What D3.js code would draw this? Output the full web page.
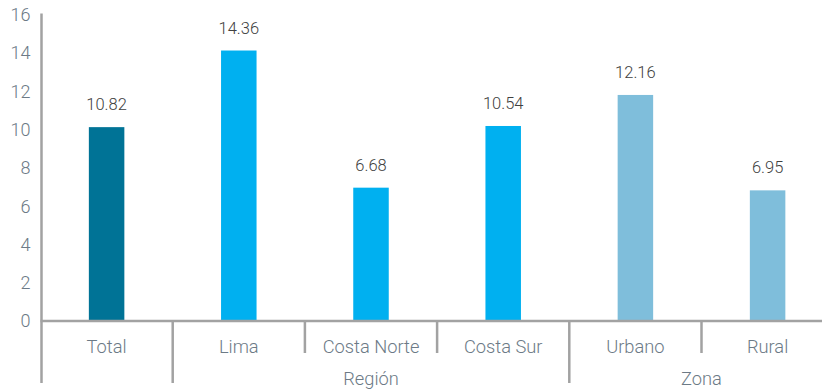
<!DOCTYPE html>
<html>
<head>
<meta charset="utf-8">
<script src="https://cdn.jsdelivr.net/npm/d3@7"></script>
<style>
body { margin: 0; background: #fff; }
svg { display: block; font-family: Roboto, "Liberation Sans", Arial, sans-serif; font-weight: 300; }
.tick-label { fill: #6c7a86; font-size: 18px; }
.cat-label { fill: #6c7a86; font-size: 18.3px; }
.val-label { fill: #404040; font-size: 16.5px; }
</style>
</head>
<body>
<svg id="chart"></svg>
<script>
// data
var categories = ["Total", "Lima", "Costa Norte", "Costa Sur", "Urbano", "Rural"];
var barValues = [10.12, 14.12, 6.96, 10.18, 11.8, 6.82];   // drawn bar heights
var labels = ["10.82", "14.36", "6.68", "10.54", "12.16", "6.95"];
var colors = ["#007396", "#00b0f0", "#00b0f0", "#00b0f0", "#7fbedb", "#7fbedb"];
var groups = [
  {name: "Región", from: "Lima", to: "Costa Sur"},
  {name: "Zona", from: "Urbano", to: "Rural"}
];
var yTicks = [0, 2, 4, 6, 8, 10, 12, 14, 16];

var W = 822, H = 389;
var plotLeft = 40.5, plotTop = 14.5, plotBase = 321;

var svg = d3.select("#chart").attr("width", W).attr("height", H);

var x = d3.scaleBand()
  .domain(categories)
  .range([plotLeft, plotLeft + 132.2 * categories.length])
  .paddingInner(0)
  .paddingOuter(0);

var y = d3.scaleLinear()
  .domain([0, 16])
  .range([plotBase, plotTop]);

var barW = 35.5;

// bars
svg.selectAll(".bar")
  .data(categories)
  .enter()
  .append("rect")
  .attr("class", "bar")
  .attr("x", function(d) { return x(d) + x.bandwidth() / 2 - barW / 2; })
  .attr("y", function(d, i) { return y(barValues[i]); })
  .attr("width", barW)
  .attr("height", function(d, i) { return y(0) - y(barValues[i]); })
  .attr("fill", function(d, i) { return colors[i]; });

// value labels
svg.selectAll(".val-label")
  .data(categories)
  .enter()
  .append("text")
  .attr("class", "val-label")
  .attr("text-anchor", "middle")
  .attr("x", function(d) { return x(d) + x.bandwidth() / 2; })
  .attr("y", function(d, i) { return y(barValues[i]) - 17; })
  .text(function(d, i) { return labels[i]; });

// y tick labels
svg.selectAll(".tick-label")
  .data(yTicks)
  .enter()
  .append("text")
  .attr("class", "tick-label")
  .attr("text-anchor", "end")
  .attr("x", plotLeft - 10)
  .attr("y", function(d) { return y(d); })
  .attr("dy", "0.36em")
  .text(function(d) { return d; });

var axisColor = "#a2a2a2";

// y axis line (long, extends into group row)
svg.append("line")
  .attr("x1", plotLeft + 1).attr("x2", plotLeft + 1)
  .attr("y1", plotTop - 1).attr("y2", 383)
  .attr("stroke", axisColor).attr("stroke-width", 2.5);

// x axis line
svg.append("line")
  .attr("x1", plotLeft).attr("x2", W)
  .attr("y1", y(0)).attr("y2", y(0))
  .attr("stroke", axisColor).attr("stroke-width", 2.5);

// category dividers
var groupStarts = groups.map(function(g) { return g.from; });
svg.selectAll(".divider")
  .data(categories.slice(1))
  .enter()
  .append("line")
  .attr("class", "divider")
  .attr("x1", function(d) { return x(d); })
  .attr("x2", function(d) { return x(d); })
  .attr("y1", y(0))
  .attr("y2", function(d) { return groupStarts.indexOf(d) >= 0 ? 383 : 353; })
  .attr("stroke", axisColor).attr("stroke-width", 2.5);

// category labels
svg.selectAll(".cat-label")
  .data(categories)
  .enter()
  .append("text")
  .attr("class", "cat-label")
  .attr("text-anchor", "middle")
  .attr("x", function(d) { return x(d) + x.bandwidth() / 2; })
  .attr("y", 353)
  .text(function(d) { return d; });

// group labels
svg.selectAll(".group-label")
  .data(groups)
  .enter()
  .append("text")
  .attr("class", "cat-label")
  .attr("text-anchor", "middle")
  .attr("x", function(g) { return (x(g.from) + x(g.to) + x.bandwidth()) / 2; })
  .attr("y", 385)
  .text(function(g) { return g.name; });
</script>
</body>
</html>
